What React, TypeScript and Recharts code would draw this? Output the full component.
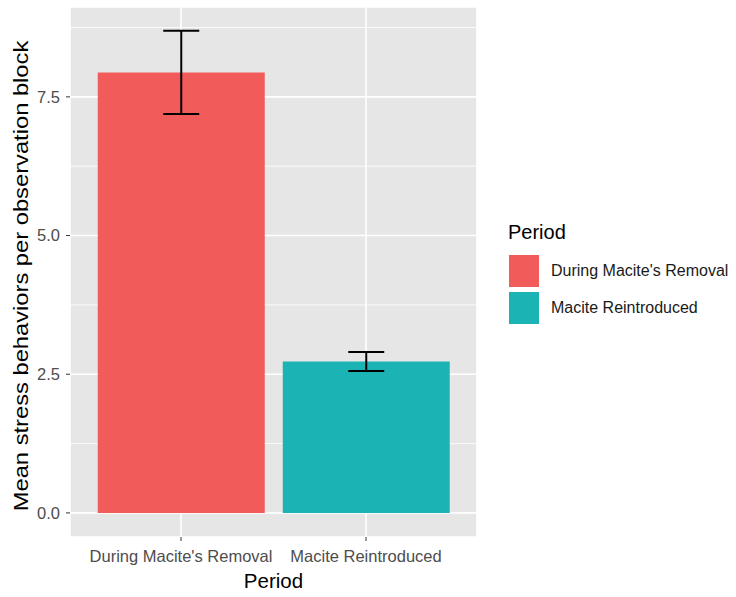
import React from "react";
import {
  BarChart,
  Bar,
  XAxis,
  YAxis,
  CartesianGrid,
  ErrorBar,
  Cell,
} from "recharts";

const periods = ["During Macite's Removal", "Macite Reintroduced"];
const means = [7.94, 2.73];
const errors = [0.75, 0.17];
const colors = ["#F15B5A", "#1CB3B5"];
const yTicks = [0, 2.5, 5, 7.5];
const minorTicks = [1.25, 3.75, 6.25, 8.75];
const yDomain: [number, number] = [-0.434, 9.12];

const data = periods.map((p, i) => ({ period: p, mean: means[i], err: errors[i] }));

const FONT = "'Liberation Sans', Arial, sans-serif";

const YTitle = (props: any) => {
  const vb = props.viewBox || { x: 0, y: 0, width: 0, height: 0 };
  const cx = vb.x + 28;
  const cy = vb.y + vb.height / 2 + 4;
  return (
    <text
      transform={`translate(${cx},${cy}) rotate(-90) scale(1.13,1)`}
      x={0}
      y={0}
      textAnchor="middle"
      fontSize={21}
      fontFamily={FONT}
      fill="#000"
    >
      Mean stress behaviors per observation block
    </text>
  );
};

const XTitle = (props: any) => {
  const vb = props.viewBox || { x: 0, y: 0, width: 0, height: 0 };
  return (
    <text
      x={vb.x + vb.width / 2}
      y={vb.y + 51}
      textAnchor="middle"
      fontSize={20.5}
      fontFamily={FONT}
      fill="#000"
    >
      Period
    </text>
  );
};

const minorGen = (args: any) => {
  const yAxis = args && args.yAxis;
  if (yAxis && typeof yAxis.scale === "function") {
    return minorTicks.map((t) => yAxis.scale(t));
  }
  const off = args.offset;
  return minorTicks.map(
    (t) => off.top + off.height * (1 - (t - yDomain[0]) / (yDomain[1] - yDomain[0]))
  );
};

const LegendBox = () => (
  <div style={{ position: "absolute", left: 508, top: 222, fontFamily: FONT, color: "#000" }}>
    <div style={{ fontSize: 20, lineHeight: "20px", height: 20, marginBottom: 13 }}>Period</div>
    {periods.map((p, i) => (
      <div key={p} style={{ display: "flex", alignItems: "center", height: 32, marginBottom: 5 }}>
        <div style={{ width: 30, height: 32, background: colors[i], marginLeft: 1 }} />
        <div style={{ marginLeft: 12, fontSize: 16, color: "#1a1a1a", whiteSpace: "nowrap" }}>{p}</div>
      </div>
    ))}
  </div>
);

export default function App() {
  return (
    <div style={{ position: "absolute", left: 0, top: 0, width: 736, height: 597, background: "#fff" }}>
      <BarChart
        width={736}
        height={597}
        data={data}
        margin={{ top: 7, right: 259, bottom: 30, left: 0 }}
        barCategoryGap="5%"
      >
        <CartesianGrid
          fill="#E6E6E6"
          stroke="#FFFFFF"
          strokeWidth={0.8}
          vertical={false}
          horizontalCoordinatesGenerator={minorGen}
        />
        <CartesianGrid fill="none" stroke="#FFFFFF" strokeWidth={1.6} />
        <XAxis
          dataKey="period"
          type="category"
          padding={{ left: 18.5, right: 18.5 }}
          height={30}
          axisLine={false}
          interval={0}
          tickSize={4}
          tickMargin={9}
          tickLine={{ stroke: "#333333", strokeWidth: 1 }}
          tick={{ fill: "#4D4D4D", fontSize: 16.5, fontFamily: FONT }}
          label={<XTitle />}
        />
        <YAxis
          type="number"
          domain={yDomain}
          allowDataOverflow
          ticks={yTicks}
          tickFormatter={(v: number) => v.toFixed(1)}
          width={70}
          axisLine={false}
          tickSize={4}
          tickMargin={6}
          tickLine={{ stroke: "#333333", strokeWidth: 1 }}
          tick={{ fill: "#4D4D4D", fontSize: 16.5, fontFamily: FONT }}
          label={<YTitle />}
        />
        <Bar dataKey="mean" isAnimationActive={false} legendType="none">
          {data.map((d, i) => (
            <Cell key={d.period} fill={colors[i]} />
          ))}
          <ErrorBar dataKey="err" width={18} stroke="#000" strokeWidth={2} direction="y" />
        </Bar>
      </BarChart>
      <LegendBox />
    </div>
  );
}
